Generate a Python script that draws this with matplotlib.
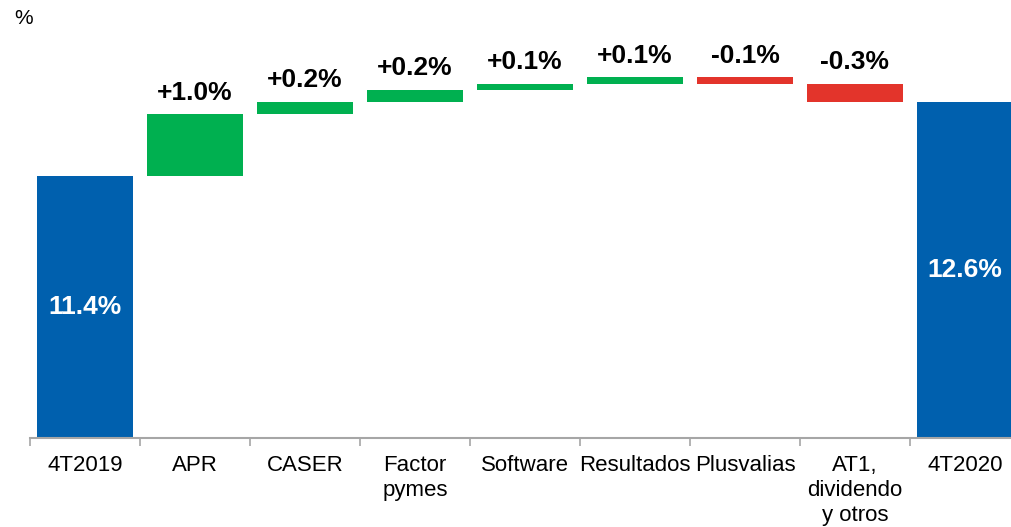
import numpy as np
import matplotlib
matplotlib.use("Agg")
import matplotlib.pyplot as plt

plt.rcParams['font.family'] = ['Liberation Sans', 'DejaVu Sans']

# CET1 bridge 4T2019 -> 4T2020
categorias = ["4T2019", "APR", "CASER", "Factor\npymes", "Software",
              "Resultados", "Plusvalias", "AT1,\ndividendo\ny otros", "4T2020"]
inicio = 11.4
variaciones = [1.0, 0.2, 0.2, 0.1, 0.1, -0.1, -0.3]
final = 12.6

azul = "#0060AE"
verde = "#00B050"
rojo = "#E3342B"

fig = plt.figure(figsize=(10.12, 5.27), dpi=100)
ax = fig.add_axes([30/1012, 89/527, 990/1012, 438/527])

ymin = 7.152
ymax = ymin + 438 / (74 / 1.2)

x = np.arange(len(categorias))
ancho = 0.87

# barras de totales
ax.bar(x[0], inicio - ymin, bottom=ymin, width=ancho, color=azul, zorder=2)
ax.bar(x[-1], final - ymin, bottom=ymin, width=ancho, color=azul, zorder=2)
ax.text(x[0], (inicio + ymin) / 2, f"{inicio:.1f}%", ha="center", va="center",
        color="white", fontsize=19, fontweight="bold")
ax.text(x[-1], (final + ymin) / 2, f"{final:.1f}%", ha="center", va="center",
        color="white", fontsize=19, fontweight="bold")

# variaciones
nivel = inicio
for i, v in enumerate(variaciones, start=1):
    col = verde if v >= 0 else rojo
    ax.bar(x[i], v, bottom=nivel, width=ancho, color=col, zorder=2)
    tope = max(nivel, nivel + v)
    ax.annotate(f"{v:+.1f}%", (x[i], tope), xytext=(0, 7), textcoords="offset points",
                ha="center", va="bottom", fontsize=19, fontweight="bold", color="black")
    nivel += v

ax.set_xlim(-0.5, len(categorias) - 0.5)
ax.set_ylim(ymin, ymax)

ax.set_xticks(x)
ax.set_xticklabels(categorias, fontsize=16, linespacing=1.25)
ax.tick_params(axis="x", which="major", length=0, pad=12)
ax.set_xticks(np.arange(-0.5, len(categorias), 1), minor=True)
ax.tick_params(axis="x", which="minor", length=6, width=1.2, color="#A6A6A6")
ax.set_yticks([])

for s in ["left", "top", "right"]:
    ax.spines[s].set_visible(False)
ax.spines["bottom"].set_color("#A6A6A6")
ax.spines["bottom"].set_linewidth(1.5)

fig.text(14/1012, 1 - 19/527, "%", fontsize=15, ha="left", va="center")

fig.savefig("out.png", dpi=100)
